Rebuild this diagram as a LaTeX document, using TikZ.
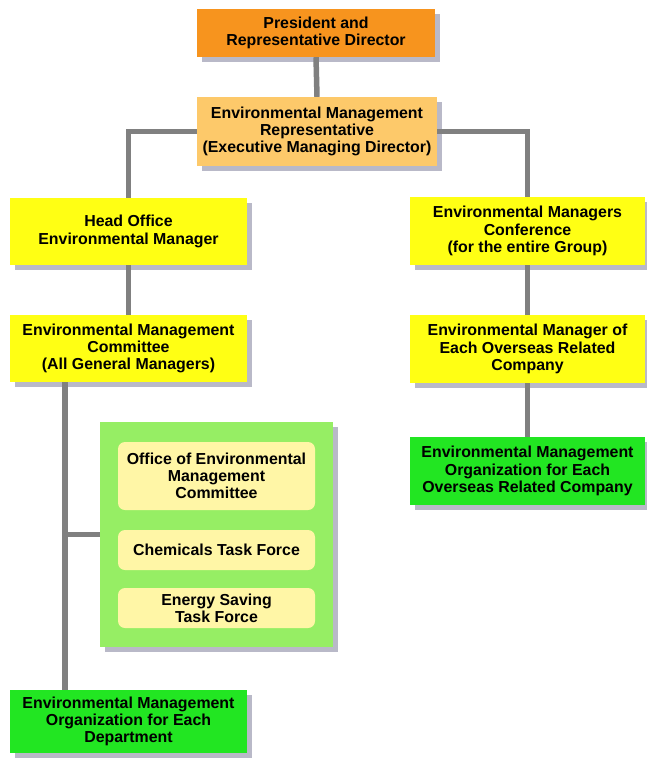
\documentclass[tikz,border=0pt]{standalone}
\usepackage{fontspec}
\setmainfont{Liberation Sans}
\usetikzlibrary{shadows,calc}
\definecolor{presor}{RGB}{247,148,30}
\definecolor{emror}{RGB}{253,201,106}
\definecolor{ylw}{RGB}{255,255,20}
\definecolor{grn}{RGB}{34,230,34}
\definecolor{lgrn}{RGB}{150,238,100}
\definecolor{pale}{RGB}{255,246,166}
\definecolor{shd}{RGB}{185,185,200}
\definecolor{lnc}{RGB}{128,128,128}
\tikzset{
  x=1pt,y=1pt,
  box/.style={draw=none, align=center, inner sep=0pt,
    font=\fontsize{15.9}{17.3}\selectfont\bfseries,
    drop shadow={shadow xshift=5pt, shadow yshift=-5pt, fill=shd, opacity=1}},
  inbox/.style={draw=none, fill=pale, rounded corners=7pt, align=center, inner sep=0pt,
    minimum width=197pt, font=\fontsize{15.9}{17.3}\selectfont\bfseries},
  conn/.style={draw=lnc, line width=5.5pt}
}
\begin{document}
\begin{tikzpicture}
\useasboundingbox (0,0) rectangle (647,-763);
\fill[white] (0,0) rectangle (647,-763);
% nodes
\node[box, fill=presor, minimum width=238, minimum height=48] (pres) at (316,-33)
  {President and\\Representative Director};
\node[box, fill=emror, minimum width=240, minimum height=69] (emr) at (317,-131.5)
  {Environmental Management\\Representative\\(Executive Managing Director)};
\node[box, fill=ylw, minimum width=237, minimum height=67] (ho) at (128.5,-231.5)
  {Head Office\\Environmental Manager};
\node[box, fill=ylw, minimum width=237, minimum height=67] (emc) at (128.5,-348.5)
  {Environmental Management\\Committee\\(All General Managers)};
\node[box, fill=ylw, minimum width=235, minimum height=68] (conf) at (527.5,-231)
  {Environmental Managers\\Conference\\(for the entire Group)};
\node[box, fill=ylw, minimum width=235, minimum height=68] (mgr) at (527.5,-349)
  {Environmental Manager of\\Each Overseas Related\\Company};
\node[box, fill=grn, minimum width=235, minimum height=68] (ovs) at (527.5,-471)
  {Environmental Management\\Organization for Each\\Overseas Related Company};
\node[box, fill=lgrn, minimum width=233, minimum height=225] (cont) at (216.5,-534.5) {};
\node[inbox, minimum height=68] (off) at (216.5,-476)
  {Office of Environmental\\Management\\Committee};
\node[inbox, minimum height=40] (chem) at (216.5,-550) {Chemicals Task Force};
\node[inbox, minimum height=40] (ener) at (216.5,-608) {Energy Saving\\Task Force};
\node[box, fill=grn, minimum width=237, minimum height=63] (dept) at (128.5,-721.5)
  {Environmental Management\\Organization for Each\\Department};
% connectors
\draw[conn] (pres.south) -- (emr.north);
\draw[conn] (emr.west) -| (ho.north);
\draw[conn] (emr.east) -| (conf.north);
\draw[conn] (ho.south) -- (emc.north);
\draw[conn] (conf.south) -- (mgr.north);
\draw[conn] (mgr.south) -- (ovs.north);
\coordinate (ta) at ($(emc.south west)+(55,0)$);
\draw[conn] (ta) -- (ta |- dept.north);
\draw[conn] (ta |- cont.west) -- (cont.west);
\end{tikzpicture}
\end{document}
